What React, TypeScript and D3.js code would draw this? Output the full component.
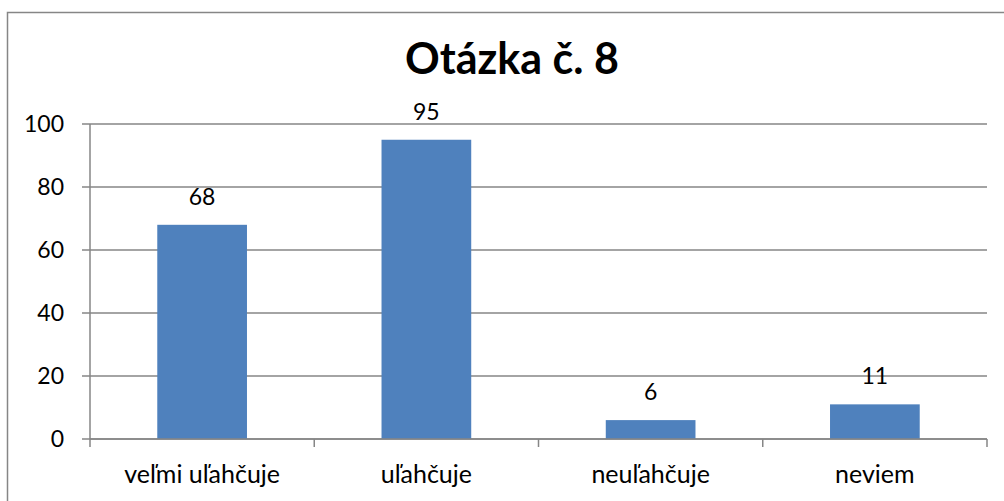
import React from "react";
import * as d3 from "d3";

const categories: string[] = ["veľmi uľahčuje", "uľahčuje", "neuľahčuje", "neviem"];
const values: number[] = [68, 95, 6, 11];
const yTicks: number[] = [0, 20, 40, 60, 80, 100];
const title = "Otázka č. 8";

const W = 1004;
const H = 501;
const plot = { left: 90, right: 987, top: 124, bottom: 439 };
const FONT = "Lato, 'Open Sans', sans-serif";
const GRID = "#868686";
const BAR = "#4F81BD";

export default function App() {
  const x = d3
    .scaleBand<string>()
    .domain(categories)
    .range([plot.left, plot.right])
    .paddingInner(0.6)
    .paddingOuter(0.3);
  const y = d3.scaleLinear().domain([0, 100]).range([plot.bottom, plot.top]);
  const step = x.step();
  const boundaries = d3.range(categories.length + 1).map((i) => plot.left + i * step);

  return (
    <svg
      width={W}
      height={H}
      style={{ position: "absolute", left: 0, top: 0, background: "#fff" }}
      fontFamily={FONT}
    >
      <rect x={0} y={0} width={W} height={H} fill="#fff" />
      <rect x={7.5} y={12.5} width={W + 20} height={H + 20} fill="none" stroke={GRID} strokeWidth={1.5} />
      <text x={512} y={74} textAnchor="middle" fontSize={43} fontWeight={700} fill="#000">
        {title}
      </text>
      {yTicks.map((t) => (
        <g key={t}>
          <line x1={plot.left - 8} x2={plot.right} y1={y(t)} y2={y(t)} stroke={GRID} strokeWidth={1.5} />
          <text x={64} y={y(t)} dy="0.36em" textAnchor="end" fontSize={23} fill="#000">
            {t}
          </text>
        </g>
      ))}
      <line x1={plot.left} x2={plot.left} y1={plot.top} y2={plot.bottom} stroke={GRID} strokeWidth={1.5} />
      {boundaries.map((b, i) => (
        <line key={i} x1={b} x2={b} y1={plot.bottom} y2={plot.bottom + 8} stroke={GRID} strokeWidth={1.5} />
      ))}
      {categories.map((c, i) => (
        <g key={c}>
          <rect
            x={x(c)!}
            y={y(values[i])}
            width={x.bandwidth()}
            height={y(0) - y(values[i])}
            fill={BAR}
          />
          <text
            x={x(c)! + x.bandwidth() / 2}
            y={y(values[i]) - 20}
            textAnchor="middle"
            fontSize={23}
            fill="#000"
          >
            {values[i]}
          </text>
          <text
            x={x(c)! + x.bandwidth() / 2}
            y={483}
            textAnchor="middle"
            fontSize={25}
            fill="#000"
          >
            {c}
          </text>
        </g>
      ))}
      <line x1={plot.left} x2={plot.right} y1={plot.bottom} y2={plot.bottom} stroke={GRID} strokeWidth={1.5} />
    </svg>
  );
}
